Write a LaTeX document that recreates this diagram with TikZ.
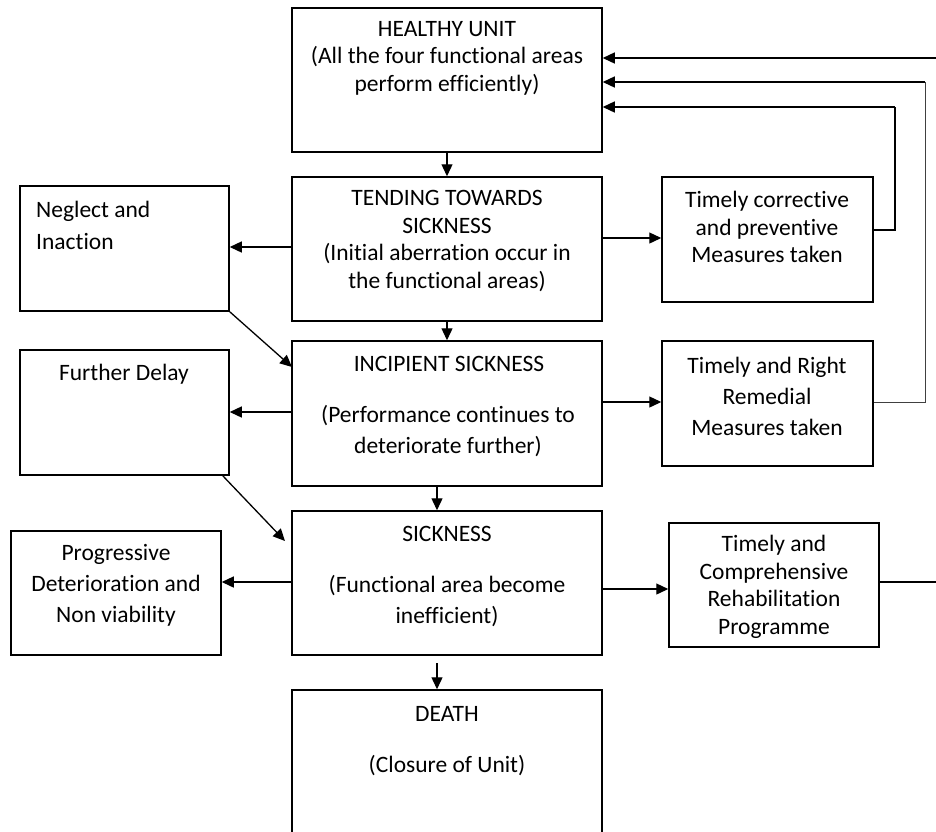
\documentclass[tikz,border=0pt]{standalone}
\usepackage{fontspec}
\setmainfont[Ligatures={NoCommon}]{Carlito}
\usetikzlibrary{arrows.meta}
\begin{document}
\begin{tikzpicture}[x=1pt,y=-1pt,
  box/.style={draw,line width=1.5pt,inner sep=0pt},
  txt/.style={font=\fontsize{23.5}{27.5}\selectfont,align=center,inner sep=0pt},
  arr/.style={line width=1.3pt,-{Triangle[length=12pt,width=11pt]}},
  ln/.style={line width=1.3pt}]
\useasboundingbox (0,0) rectangle (936,831);
% boxes
\node[box,minimum width=310pt,minimum height=144pt] (healthy) at (447,80) {};
\node[box,minimum width=310pt,minimum height=144pt] (tending) at (447,249) {};
\node[box,minimum width=310pt,minimum height=145pt] (incip) at (447,413.5) {};
\node[box,minimum width=310pt,minimum height=144pt] (sick) at (447,583) {};
\node[box,minimum width=310pt,minimum height=160pt] (death) at (447,770) {};
\node[box,minimum width=209pt,minimum height=125pt] (neglect) at (124.5,248.5) {};
\node[box,minimum width=209pt,minimum height=125pt] (delay) at (124.5,412.5) {};
\node[box,minimum width=210pt,minimum height=124pt] (prog) at (116,593) {};
\node[box,minimum width=211pt,minimum height=125pt] (corr) at (767.5,239.5) {};
\node[box,minimum width=211pt,minimum height=125pt] (remed) at (767.5,403.5) {};
\node[box,minimum width=210pt,minimum height=124pt] (rehab) at (774,585) {};
% texts
\node[txt] (thealthy) at (447,58) {HEALTHY UNIT\\(All the four functional areas\\perform efficiently)};
\node[txt] (ttending) at (447,241) {TENDING TOWARDS\\SICKNESS\\(Initial aberration occur in\\the functional areas)};
\node[txt] (tincip1) at (449,364) {INCIPIENT SICKNESS};
\node[txt,font=\fontsize{23.5}{31}\selectfont] (tincip2) at (448,431) {(Performance continues to\\deteriorate further)};
\node[txt] (tsick1) at (447,534) {SICKNESS};
\node[txt,font=\fontsize{23.5}{31}\selectfont] (tsick2) at (447,601) {(Functional area become\\inefficient)};
\node[txt] (tdeath1) at (447,714) {DEATH};
\node[txt] (tdeath2) at (447,766) {(Closure of Unit)};
\node[txt,align=left,anchor=west,font=\fontsize{23.5}{32}\selectfont] (tneglect) at (36,225) {Neglect and\\Inaction};
\node[txt] (tdelay) at (124,374) {Further Delay};
\node[txt,font=\fontsize{23.5}{31}\selectfont] (tprog) at (116,585) {Progressive\\Deterioration and\\Non viability};
\node[txt] (tcorr) at (767,227) {Timely corrective\\and preventive\\Measures taken};
\node[txt,font=\fontsize{23.5}{31}\selectfont] (tremed) at (767,396.5) {Timely and Right\\Remedial\\Measures taken};
\node[txt] (trehab) at (774,587) {Timely and\\Comprehensive\\Rehabilitation\\Programme};
% vertical arrows
\draw[arr] (healthy.south) -- (tending.north);
\draw[arr] (tending.south) -- (incip.north);
\draw[arr] ([xshift=-10pt]incip.south) -- ([xshift=-10pt]sick.north);
\coordinate (dstart) at (437,663);
\draw[arr] (dstart) -- (dstart |- death.north);
% left arrows
\draw[arr] (tending.west |- 0,247) -- (neglect.east |- 0,247);
\draw[arr] (incip.west |- 0,412) -- (delay.east |- 0,412);
\draw[arr] (sick.west |- 0,582) -- (prog.east |- 0,582);
% diagonals
\coordinate (n1) at (292,367);
\coordinate (d1) at (285,541);
\draw[arr] (neglect.south east) -- (n1);
\draw[arr] ([xshift=-7pt]delay.south east) -- (d1);
% right arrows
\draw[arr] (tending.east |- 0,238) -- (corr.west |- 0,238);
\draw[arr] (incip.east |- 0,402) -- (remed.west |- 0,402);
\draw[arr] (sick.east |- 0,589) -- (rehab.west |- 0,589);
% feedback lines
\coordinate (c1) at (895,230);
\coordinate (c2) at (925,402);
\coordinate (c3) at (950,582);
\draw[ln] (corr.east |- c1) -- (c1) -- (c1 |- 0,107);
\draw[arr] (c1 |- 0,107) -- (healthy.east |- 0,107);
\draw[line width=0.9pt,black!75] (remed.east |- c2) -- (c2) -- (c2 |- 0,82);
\draw[arr] (c2 |- 0,82) -- (healthy.east |- 0,82);
\draw[ln] (rehab.east |- c3) -- (c3) -- (c3 |- 0,58);
\draw[arr] (c3 |- 0,58) -- (healthy.east |- 0,58);
\end{tikzpicture}
\end{document}
